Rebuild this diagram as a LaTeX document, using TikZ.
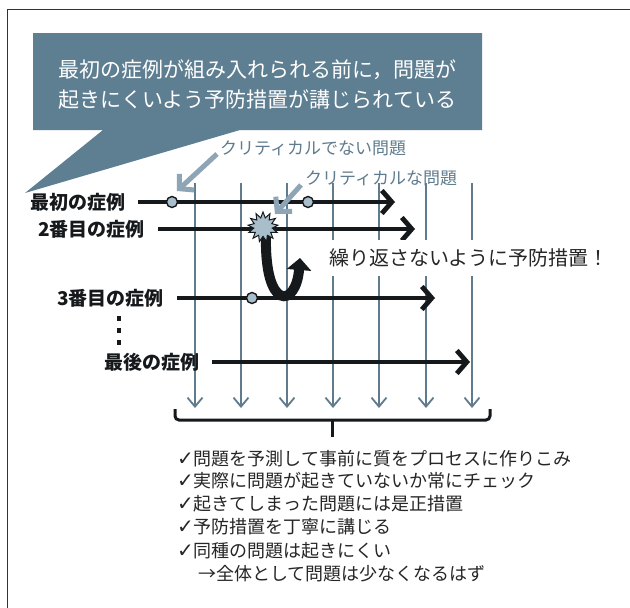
\documentclass[tikz,border=0pt]{standalone}
\usepackage{fontspec}
\setmainfont{Noto Sans CJK JP}
\newfontfamily\djv{DejaVu Sans}
\usetikzlibrary{arrows.meta,shapes.geometric}
\definecolor{callout}{HTML}{5E7E91}
\definecolor{slate}{HTML}{5F7B8D}
\definecolor{lightslate}{HTML}{8DA5B5}
\definecolor{dotfill}{HTML}{A9BECB}
\definecolor{ink}{HTML}{16191C}
\definecolor{txt}{HTML}{262626}
\newcommand{\chk}{{\djv\fontsize{20}{20}\selectfont ✓}}
\begin{document}
\begin{tikzpicture}[x=1pt,y=-1pt,
  outerframe/.style={draw=black!80, line width=1pt},
  vline/.style={slate, line width=1.4pt, -{Straight Barb[length=9pt,width=15pt,line width=1.8pt]}},
  rowarrow/.style={ink, line width=4.8pt, -{Straight Barb[length=10pt,width=23pt]}},
  pointer/.style={lightslate, line width=5pt, -{Straight Barb[length=10pt,width=22pt]}},
  prob/.style={circle, draw=ink, line width=1.4pt, fill=dotfill, minimum size=11pt, inner sep=0pt},
  burst/.style={star, star points=13, star point ratio=1.6, minimum size=30pt, inner sep=0pt, draw=ink, line width=1pt, fill=dotfill},
  uturn/.style={ink, line width=10pt, -{Triangle[length=12pt,width=24pt]}},
  rowlabel/.style={font=\fontsize{19}{19}\selectfont\bfseries, text=ink, inner sep=0pt},
  critlabel/.style={font=\fontsize{17}{17}\selectfont, text=slate, inner sep=0pt},
  notebox/.style={font=\fontsize{20}{20}\selectfont, text=txt, fill=white, inner xsep=2pt, inner ysep=9pt},
  bracestroke/.style={ink, line width=3pt},
  listtxt/.style={font=\fontsize{18}{18}\selectfont, text=txt, inner sep=0pt, anchor=base west},
  calltext/.style={font=\fontsize{21}{30}\selectfont, text=white, align=center, inner sep=0pt}
]
\useasboundingbox (0,0) rectangle (630,608);
\fill[white] (0,0) rectangle (630,608);
\draw[outerframe] (7,608) -- (7,9) -- (630,9);

% callout
\fill[callout] (33,33) -- (482,33) -- (482,130) -- (240,130) -- (25,193) -- (103,130) -- (33,130) -- cycle;
\node[calltext] (call) at (257.5,85) {最初の症例が組み入れられる前に，問題が\\起きにくいよう予防措置が講じられている};

% vertical time lines
\foreach \i/\x in {1/195,2/241,3/287,4/333,5/379,6/426,7/472}{
  \coordinate (t\i) at (\x,183);
  \coordinate (b\i) at (\x,408);
  \draw[vline] (t\i) -- (b\i);
}

% rows
\node[rowlabel, anchor=east] (r1) at (126,202) {最初の症例};
\node[rowlabel, anchor=east] (r2) at (145,229) {2番目の症例};
\node[rowlabel, anchor=east] (r3) at (164,298) {3番目の症例};
\node[rowlabel, anchor=east] (r4) at (200,362) {最後の症例};
\coordinate (r1s) at (138,202); \coordinate (r1e) at (395,202);
\coordinate (r2s) at (158,229); \coordinate (r2e) at (415,229);
\coordinate (r3s) at (177,298); \coordinate (r3e) at (435,298);
\coordinate (r4s) at (212,362); \coordinate (r4e) at (470,362);
\draw[rowarrow] (r1s) -- (r1e);
\draw[rowarrow] (r2s) -- (r2e);
\draw[rowarrow] (r3s) -- (r3e);
\draw[rowarrow] (r4s) -- (r4e);

% vertical dots
\fill[ink] (117,316) rectangle (121,321);
\fill[ink] (117,328) rectangle (121,333);
\fill[ink] (117,340) rectangle (121,345);

% problems
\node[prob] (p1) at (172,202) {};
\node[prob] (p2) at (308,202) {};
\node[prob] (p3) at (252,298) {};

% U-turn and critical problem
\coordinate (u1) at (266,234);
\coordinate (u2) at (300,258);
\draw[uturn] (u1) .. controls (264,312) and (296,308) .. (u2);
\node[burst] (crit) at (263,227) {};

% pointer labels
\node[critlabel, anchor=west] (nc) at (220,148) {クリティカルでない問題};
\node[critlabel, anchor=west] (cc) at (305,178) {クリティカルな問題};
\coordinate (nce) at (177,191);
\coordinate (cce) at (275,214);
\draw[pointer] ([shift={(-3pt,-6pt)}]nc.west) -- (nce);
\draw[pointer] ([shift={(-4pt,-7pt)}]cc.west) -- (cce);

% note
\node[notebox, anchor=west] (rep) at (327,258) {繰り返さないように予防措置！};

% bracket
\draw[bracestroke, rounded corners=4pt] (175,409) -- (175,420) -- (490,420) -- (490,409);
\coordinate (bm) at (332,420);
\coordinate (bt) at (332,437);
\draw[bracestroke] (bm) -- (bt);

% list
\node[listtxt] (l1) at (177,465) {\chk 問題を予測して事前に質をプロセスに作りこみ};
\node[listtxt] (l2) at (177,487) {\chk 実際に問題が起きていないか常にチェック};
\node[listtxt] (l3) at (177,510) {\chk 起きてしまった問題には是正措置};
\node[listtxt] (l4) at (177,533) {\chk 予防措置を丁寧に講じる};
\node[listtxt] (l5) at (177,557) {\chk 同種の問題は起きにくい};
\node[listtxt] (l6) at (198,580) {→全体として問題は少なくなるはず};
\end{tikzpicture}
\end{document}
